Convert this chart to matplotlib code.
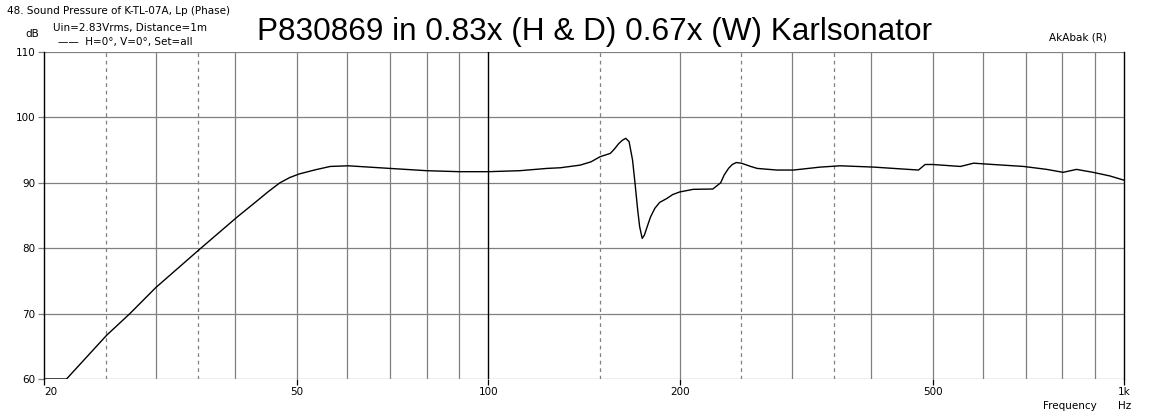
import numpy as np
import matplotlib
matplotlib.use("Agg")
from matplotlib import pyplot as plt

# frequency response (Hz, dB)
freq = [20, 21.7, 25.1, 27.3, 30, 35.3, 40.3, 43.1, 45.0, 47.0, 48.7, 50.4, 53.5,
        56.4, 60.2, 70, 80, 90, 100, 112, 123.7, 129.8, 139.4, 145, 150, 155.6,
        158, 160.4, 162.5, 164.5, 166.5, 168.6, 170.1, 171.8, 173, 174.6, 176,
        177.8, 180, 182.8, 186, 190.9, 195, 200, 210, 225.5, 232, 235, 238.7,
        242, 245.5, 250, 258.7, 264.8, 284.4, 302, 332.8, 357.8, 404, 434,
        475, 486.6, 500, 553, 580, 622, 695, 756, 802, 842, 894, 950, 1000]
spl = [60, 60, 66.7, 70.0, 74.0, 80.0, 84.8, 87.1, 88.6, 90.0, 90.8, 91.35, 92.0,
       92.5, 92.6, 92.2, 91.85, 91.7, 91.7, 91.85, 92.2, 92.3, 92.7, 93.2, 94.0,
       94.5, 95.2, 96.0, 96.5, 96.8, 96.3, 93.5, 90.0, 85.8, 83.3, 81.5, 82.0,
       83.3, 84.8, 86.1, 87.0, 87.6, 88.2, 88.6, 89.0, 89.05, 90.0, 91.2, 92.2,
       92.8, 93.1, 93.0, 92.5, 92.2, 91.95, 91.95, 92.4, 92.6, 92.4, 92.2,
       91.95, 92.8, 92.8, 92.5, 93.0, 92.8, 92.5, 92.05, 91.6, 92.05, 91.6, 91.05, 90.4]

solid_grid = [30, 40, 50, 60, 70, 80, 90, 200, 300, 400, 500, 600, 700, 800, 900]
dashed_grid = [25, 35, 150, 250, 350]
db_ticks = [60, 70, 80, 90, 100, 110]
f_ticks = [20, 50, 100, 200, 500, 1000]
f_labels = ["20", "50", "100", "200", "500", "1k"]

W, H = 1153, 418
fig = plt.figure(figsize=(W / 100, H / 100), dpi=100)
ax = fig.add_axes([44 / W, 1 - 379 / H, (1124 - 44) / W, (379 - 52) / H])
ax.set_xscale("log")
ax.set_xlim(20, 1000)
ax.set_ylim(60, 110)

grey = "#808080"
for f in solid_grid:
    ax.axvline(f, color=grey, lw=0.9, zorder=1)
for f in dashed_grid:
    ax.axvline(f, color=grey, lw=0.9, ls=(0, (3, 3)), zorder=1)
for d in db_ticks:
    ax.axhline(d, color=grey, lw=0.9, zorder=1)
ax.axvline(100, color="black", lw=1.0, zorder=2)

ax.plot(freq, spl, color="black", lw=1.0, zorder=3)

for s in ["top", "bottom"]:
    ax.spines[s].set_visible(False)
for s in ["left", "right"]:
    ax.spines[s].set_color("black")
    ax.spines[s].set_linewidth(1.0)

font = "DejaVu Sans"
ax.set_yticks(db_ticks)
ax.set_yticklabels([str(d) for d in db_ticks], fontsize=7.5, family=font)
ax.tick_params(axis="y", length=4, width=0.9, color=grey, pad=2)
ax.set_xticks(f_ticks)
ax.set_xticklabels(f_labels, fontsize=7.5, family=font)
ax.xaxis.set_minor_locator(matplotlib.ticker.NullLocator())
ax.tick_params(axis="x", length=4, width=0.9, color="black", pad=2)
ax.get_xticklabels()[0].set_horizontalalignment("left")

fig.text(7 / W, 1 - 11 / H, "48. Sound Pressure of K-TL-07A, Lp (Phase)",
         fontsize=7.5, family=font, va="center")
fig.text(53 / W, 1 - 28 / H, "Uin=2.83Vrms, Distance=1m",
         fontsize=7.5, family=font, va="center")
fig.text(25 / W, 1 - 34 / H, "dB", fontsize=7.5, family=font, va="center")
fig.text(58 / W, 1 - 42 / H, "\u2014\u2014  H=0°, V=0°, Set=all",
         fontsize=7.5, family=font, va="center")
fig.text(1107 / W, 1 - 38 / H, "AkAbak (R)", fontsize=7.5, family=font,
         va="center", ha="right")
fig.text(1097 / W, 1 - 406 / H, "Frequency", fontsize=7.5, family=font,
         va="center", ha="right")
fig.text(1125 / W, 1 - 406 / H, "Hz", fontsize=7.5, family=font,
         va="center", ha="center")
fig.text(595 / W, 1 - 40 / H, "P830869 in 0.83x (H & D) 0.67x (W) Karlsonator",
         fontsize=22.7, family="Liberation Sans", ha="center", va="baseline")

fig.savefig("out.png", dpi=100)
